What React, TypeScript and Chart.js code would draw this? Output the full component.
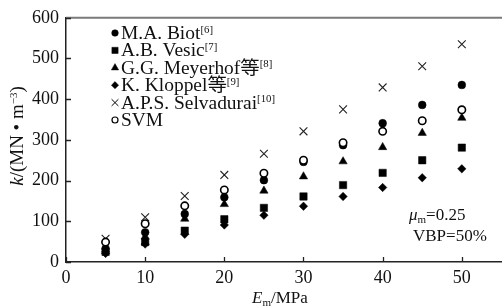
import React, { useEffect, useRef } from 'react';
import { Chart, registerables } from 'chart.js';
import { drawPoint } from 'chart.js/helpers';

Chart.register(...registerables);

// ---- data ----
const modulus = [5, 10, 15, 20, 25, 30, 35, 40, 45, 50];
const biot = [33, 73, 118, 159, 201, 246, 287, 341, 386, 435];
const vesic = [25, 49, 77, 105, 133, 161, 189, 219, 250, 281];
const meyerhof = [30, 62, 106, 142, 175, 210, 247, 282, 317, 354];
const kloppel = [21, 44, 68, 91, 115, 137, 161, 183, 207, 229];
const selvadurai = [57, 110, 162, 214, 266, 321, 375, 429, 481, 535];
const svm = [49, 94, 138, 177, 218, 250, 293, 321, 347, 374];

const seriesNames = ['M.A. Biot', 'A.B. Vesic', 'G.G. Meyerhof等', 'K. Kloppel等', 'A.P.S. Selvadurai', 'SVM'];
const seriesRefs = ['[6]', '[7]', '[8]', '[9]', '[10]', ''];
const xTicks = [0, 10, 20, 30, 40, 50];
const yTicks = [0, 100, 200, 300, 400, 500, 600];
const muText = '0.25';
const vbpText = 'VBP=50%';

const FONT = '"Liberation Serif", "Noto Sans CJK SC", serif';
const FS = 17;

type Run = { t: string; italic?: boolean; size?: number; dy?: number };

function runsWidth(ctx: CanvasRenderingContext2D, runs: Run[], base = FS) {
  let w = 0;
  for (const r of runs) {
    ctx.font = `${r.italic ? 'italic ' : ''}${r.size ?? base}px ${FONT}`;
    w += ctx.measureText(r.t).width;
  }
  return w;
}

function drawRuns(ctx: CanvasRenderingContext2D, x: number, y: number, runs: Run[], base = FS, sx = 1) {
  ctx.save();
  ctx.translate(x, y);
  ctx.scale(sx, 1);
  let cx = 0;
  ctx.textBaseline = 'alphabetic';
  ctx.textAlign = 'left';
  for (const r of runs) {
    ctx.font = `${r.italic ? 'italic ' : ''}${r.size ?? base}px ${FONT}`;
    ctx.fillText(r.t, cx, r.dy ?? 0);
    cx += ctx.measureText(r.t).width;
  }
  ctx.restore();
  return cx * sx;
}

const legendMarkers = [
  { pointStyle: 'circle', radius: 3.3, fill: '#000', borderWidth: 0.5 },
  { pointStyle: 'rect', radius: 4.4, fill: '#000', borderWidth: 0.5 },
  { pointStyle: 'triangle', radius: 4.2, fill: '#000', borderWidth: 0.5 },
  { pointStyle: 'rectRot', radius: 3.6, fill: '#000', borderWidth: 0.5 },
  { pointStyle: 'crossRot', radius: 4.8, fill: '#000', borderWidth: 1 },
  { pointStyle: 'circle', radius: 3, fill: '#fff', borderWidth: 1.2 },
];

const overlay = {
  id: 'overlay',
  afterDraw(chart: any) {
    const { ctx, chartArea: a, scales } = chart;
    const xs = scales.x;
    const ys = scales.y;
    ctx.save();
    // top frame line
    ctx.strokeStyle = '#7a7a7a';
    ctx.lineWidth = 2;
    ctx.beginPath();
    ctx.moveTo(a.left, a.top);
    ctx.lineTo(a.right + 4, a.top);
    ctx.stroke();
    // inner tick marks
    ctx.strokeStyle = '#222';
    ctx.lineWidth = 1.3;
    ctx.beginPath();
    for (const v of xTicks) {
      const px = Math.round(xs.getPixelForValue(v)) + 0.5;
      ctx.moveTo(px, a.bottom);
      ctx.lineTo(px, a.bottom - 5);
    }
    for (const v of yTicks) {
      const py = Math.round(ys.getPixelForValue(v)) + 0.5;
      ctx.moveTo(a.left, py);
      ctx.lineTo(a.left + 5, py);
    }
    ctx.stroke();

    ctx.fillStyle = '#111';
    // legend
    seriesNames.forEach((name, i) => {
      const cy = 33 + i * 17.4;
      const m = legendMarkers[i];
      ctx.fillStyle = m.fill;
      ctx.strokeStyle = '#000';
      ctx.lineWidth = m.borderWidth;
      drawPoint(ctx, { pointStyle: m.pointStyle as any, radius: m.radius, rotation: 0, borderWidth: m.borderWidth }, 115, cy);
      ctx.fillStyle = '#111';
      const runs: Run[] = [{ t: name }];
      if (seriesRefs[i]) runs.push({ t: seriesRefs[i], size: 10, dy: -6.5 });
      drawRuns(ctx, 121, cy + 6, runs, 18, 1.08);
    });

    // annotation
    drawRuns(ctx, 409, 220, [
      { t: 'μ', italic: true },
      { t: 'm', size: 11, dy: 3 },
      { t: '=' + muText },
    ]);
    drawRuns(ctx, 413, 241, [{ t: vbpText }]);

    // x title
    drawRuns(ctx, 252, 303, [
      { t: 'E', italic: true },
      { t: 'm', size: 11, dy: 3 },
      { t: '/MPa' },
    ]);

    // y title (rotated)
    const yRuns: Run[] = [
      { t: 'k', italic: true },
      { t: '/(MN • m' },
      { t: '−3', size: 11, dy: -6.5 },
      { t: ')' },
    ];
    const w = runsWidth(ctx, yRuns, 19);
    ctx.save();
    ctx.translate(23, 136);
    ctx.rotate(-Math.PI / 2);
    drawRuns(ctx, -w / 2, 0, yRuns, 19);
    ctx.restore();

    ctx.restore();
  },
};

function pts(ys: number[]) {
  return modulus.map((x, i) => ({ x, y: ys[i] }));
}

export default function App() {
  const ref = useRef<HTMLCanvasElement | null>(null);
  useEffect(() => {
    if (!ref.current) return;
    const chart = new Chart(ref.current, {
      type: 'scatter',
      data: {
        datasets: [
          { label: seriesNames[0], data: pts(biot), pointStyle: 'circle', pointRadius: 3.9, backgroundColor: '#000', borderColor: '#000', borderWidth: 0.5, order: 1 },
          { label: seriesNames[1], data: pts(vesic), pointStyle: 'rect', pointRadius: 5.2, backgroundColor: '#000', borderColor: '#000', borderWidth: 0.5, order: 1 },
          { label: seriesNames[2], data: pts(meyerhof), pointStyle: 'triangle', pointRadius: 4.8, backgroundColor: '#000', borderColor: '#000', borderWidth: 0.5, order: 1 },
          { label: seriesNames[3], data: pts(kloppel), pointStyle: 'rectRot', pointRadius: 4.2, backgroundColor: '#000', borderColor: '#000', borderWidth: 0.5, order: 1 },
          { label: seriesNames[4], data: pts(selvadurai), pointStyle: 'crossRot', pointRadius: 5.5, backgroundColor: '#222', borderColor: '#222', borderWidth: 1.1, order: 1 },
          { label: seriesNames[5], data: pts(svm), pointStyle: 'circle', pointRadius: 3.7, backgroundColor: '#fff', borderColor: '#000', borderWidth: 1.6, order: 0 },
        ],
      },
      options: {
        animation: false,
        responsive: false,
        maintainAspectRatio: false,
        events: [],
        layout: { padding: { top: 12, right: 4, left: 0, bottom: 0 } },
        plugins: { legend: { display: false }, tooltip: { enabled: false } },
        scales: {
          x: {
            type: 'linear',
            min: 0,
            max: 55,
            grid: { display: false, drawTicks: false },
            border: { display: true, color: '#222', width: 1.5 },
            ticks: { stepSize: 10, padding: 5, color: '#111', font: { family: FONT, size: 18 } },
            afterBuildTicks: (s: any) => { s.ticks = xTicks.map((v) => ({ value: v })); },
            afterFit: (s: any) => { s.height = 46; },
          },
          y: {
            type: 'linear',
            min: 0,
            max: 600,
            grid: { display: false, drawTicks: false },
            border: { display: true, color: '#222', width: 1.5 },
            ticks: { stepSize: 100, padding: 7, color: '#111', font: { family: FONT, size: 18 } },
            afterBuildTicks: (s: any) => { s.ticks = yTicks.map((v) => ({ value: v })); },
            afterFit: (s: any) => { s.width = 66; },
          },
        },
      },
      plugins: [overlay],
    } as any);
    return () => chart.destroy();
  }, []);
  return (
    <div style={{ position: 'absolute', left: 0, top: 0, width: 502, height: 308, overflow: 'hidden', background: '#fff' }}>
      <canvas ref={ref} width={508} height={308} style={{ display: 'block' }} />
    </div>
  );
}
